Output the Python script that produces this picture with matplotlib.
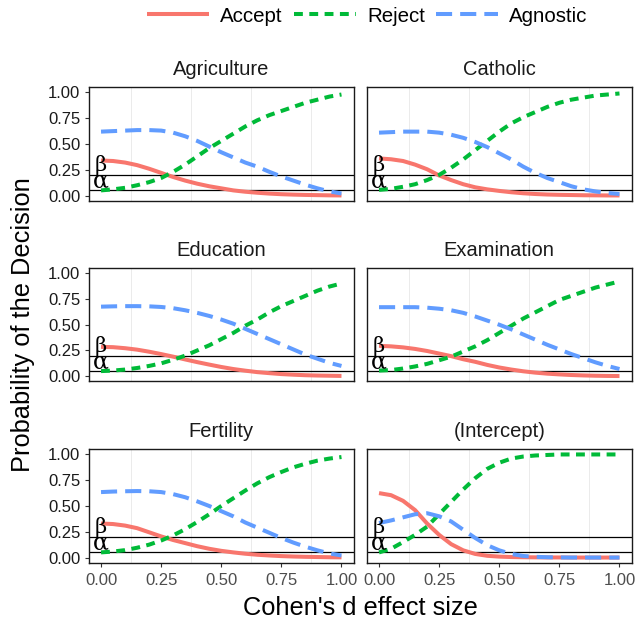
import matplotlib
matplotlib.use("Agg")
import matplotlib.pyplot as plt
from matplotlib.lines import Line2D

plt.rcParams['font.family'] = ['Liberation Sans', 'DejaVu Sans']

# ---------------- data ----------------
effect = [0.00, 0.05, 0.10, 0.15, 0.20, 0.25, 0.30, 0.35, 0.40, 0.45, 0.50,
          0.55, 0.60, 0.65, 0.70, 0.75, 0.80, 0.85, 0.90, 0.95, 1.00]

panels = ["Agriculture", "Catholic", "Education", "Examination", "Fertility", "(Intercept)"]

accept_agriculture = [.34, .335, .32, .295, .26, .22, .18, .145, .115, .09, .07, .05, .037, .027, .019, .013, .009, .006, .004, .002, .001]
reject_agriculture = [.05, .06, .075, .10, .13, .17, .23, .30, .38, .46, .53, .60, .67, .73, .78, .82, .86, .90, .93, .96, .98]
agnostic_agriculture = [.62, .625, .63, .635, .635, .63, .61, .575, .53, .475, .42, .37, .32, .28, .23, .185, .145, .105, .07, .04, .02]

accept_catholic = [.36, .352, .335, .30, .255, .195, .15, .11, .08, .06, .045, .032, .022, .015, .01, .007, .005, .003, .002, .001, .001]
reject_catholic = [.055, .065, .085, .11, .15, .20, .27, .35, .44, .53, .62, .70, .76, .81, .86, .90, .93, .95, .97, .98, .99]
agnostic_catholic = [.61, .615, .62, .62, .62, .61, .59, .56, .52, .47, .41, .35, .28, .22, .17, .13, .09, .06, .04, .025, .015]

accept_education = [.285, .282, .272, .258, .238, .215, .19, .163, .137, .113, .09, .07, .054, .04, .03, .021, .015, .01, .007, .005, .003]
reject_education = [.05, .055, .065, .08, .10, .125, .16, .20, .25, .30, .36, .42, .49, .55, .62, .68, .73, .78, .83, .87, .90]
agnostic_education = [.675, .678, .68, .68, .678, .672, .66, .64, .615, .585, .55, .51, .46, .41, .36, .31, .26, .21, .17, .13, .10]

accept_examination = [.295, .29, .28, .265, .245, .22, .195, .165, .14, .11, .085, .065, .048, .035, .025, .018, .012, .008, .005, .003, .002]
reject_examination = [.055, .06, .075, .095, .12, .155, .19, .24, .29, .35, .42, .49, .56, .62, .68, .74, .78, .82, .86, .89, .92]
agnostic_examination = [.67, .67, .67, .67, .665, .655, .64, .615, .58, .54, .50, .455, .405, .355, .305, .26, .215, .175, .135, .10, .07]

accept_fertility = [.33, .325, .31, .285, .245, .205, .17, .14, .11, .085, .065, .05, .037, .027, .02, .014, .01, .007, .005, .003, .002]
reject_fertility = [.05, .058, .072, .095, .125, .165, .215, .275, .345, .42, .50, .575, .65, .72, .78, .83, .875, .91, .94, .96, .975]
agnostic_fertility = [.635, .64, .643, .645, .643, .635, .615, .585, .545, .50, .45, .40, .34, .29, .24, .19, .145, .105, .07, .04, .02]

accept_intercept = [.625, .605, .55, .46, .33, .22, .13, .07, .035, .017, .009, .005, .003, .002, .001, .001, 0, 0, 0, 0, 0]
reject_intercept = [.05, .085, .15, .22, .30, .42, .54, .66, .77, .86, .92, .96, .98, .99, .995, 1, 1, 1, 1, 1, 1]
agnostic_intercept = [.335, .36, .39, .42, .43, .40, .35, .27, .19, .12, .07, .035, .015, .007, .003, .001, 0, 0, 0, 0, 0]

accept = [accept_agriculture, accept_catholic, accept_education,
          accept_examination, accept_fertility, accept_intercept]
reject = [reject_agriculture, reject_catholic, reject_education,
          reject_examination, reject_fertility, reject_intercept]
agnostic = [agnostic_agriculture, agnostic_catholic, agnostic_education,
            agnostic_examination, agnostic_fertility, agnostic_intercept]

alpha_level = 0.05
beta_level = 0.20

x_ticks = [0.00, 0.25, 0.50, 0.75, 1.00]
y_ticks = [0.00, 0.25, 0.50, 0.75, 1.00]
minor_grid = [0.125, 0.375, 0.625, 0.875]

series_names = ["Accept", "Reject", "Agnostic"]
colors = ["#F8766D", "#00BA38", "#619CFF"]

# ---------------- styling ----------------
LW = 2.9
styles = [dict(linestyle='-'),
          dict(linestyle=(0, (2.2, 1.6))),
          dict(linestyle=(0, (4.0, 2.0)))]

W, H = 635, 624
fig = plt.figure(figsize=(W / 100, H / 100), dpi=100)

col_left = [89, 367]
panel_w = 264.5
row_top = [87.3, 268.0, 449.3]
panel_h = 113.4

for i, name in enumerate(panels):
    r, c = divmod(i, 2)
    left = col_left[c] / W
    bottom = 1 - (row_top[r] + panel_h) / H
    ax = fig.add_axes([left, bottom, panel_w / W, panel_h / H])
    ax.set_xlim(-0.05, 1.05)
    ax.set_ylim(-0.05, 1.05)
    for g in minor_grid:
        ax.axvline(g, color='#EBEBEB', lw=0.7, zorder=0)
    ax.axhline(alpha_level, color='black', lw=0.9, zorder=1)
    ax.axhline(beta_level, color='black', lw=0.9, zorder=1)
    data = [accept[i], reject[i], agnostic[i]]
    for s in range(3):
        ax.plot(effect, data[s], color=colors[s], lw=LW, solid_capstyle='butt',
                dash_capstyle='butt', zorder=2 + s, **styles[s])
    ax.text(0, beta_level, "β", family=['DejaVu Serif'], fontsize=15,
            ha='center', va='bottom', zorder=6)
    ax.text(0, alpha_level - 0.02, "α", family=['DejaVu Serif'], fontsize=17,
            ha='center', va='bottom', zorder=6)
    for sp in ax.spines.values():
        sp.set_color('#1a1a1a')
        sp.set_linewidth(1.0)
    ax.set_title(name, fontsize=14.5, pad=8.5, color='#1a1a1a')
    ax.set_xticks(x_ticks)
    ax.set_yticks(y_ticks)
    ax.tick_params(length=3.2, width=0.8, color='#333333')
    if r == 2:
        ax.set_xticklabels([f"{v:.2f}" for v in x_ticks], fontsize=12, color='#4D4D4D')
        ax.tick_params(axis='x', pad=4)
    else:
        ax.tick_params(axis='x', bottom=False, labelbottom=False)
    if c == 0:
        ax.set_yticklabels([f"{v:.2f}" for v in y_ticks], fontsize=12, color='#1a1a1a')
        ax.tick_params(axis='y', pad=3)
    else:
        ax.tick_params(axis='y', left=False, labelleft=False)

fig.text(360 / W, 9 / H, "Cohen's d effect size", fontsize=18.3,
         ha='center', va='baseline', color='black')
fig.text(23 / W, 1 - 324.5 / H, "Probability of the Decision", fontsize=18.3,
         rotation=90, ha='center', va='center', color='black')

handles = [Line2D([0], [0], color=colors[s], lw=LW, solid_capstyle='butt',
                  dash_capstyle='butt', **styles[s]) for s in range(3)]
fig.legend(handles, series_names, loc='center', bbox_to_anchor=(367.5 / W, 1 - 16 / H),
           ncol=3, frameon=False, fontsize=14.8, handlelength=3.0,
           handletextpad=0.55, columnspacing=0.55, borderpad=0, borderaxespad=0)

fig.savefig("out.png", dpi=100)
